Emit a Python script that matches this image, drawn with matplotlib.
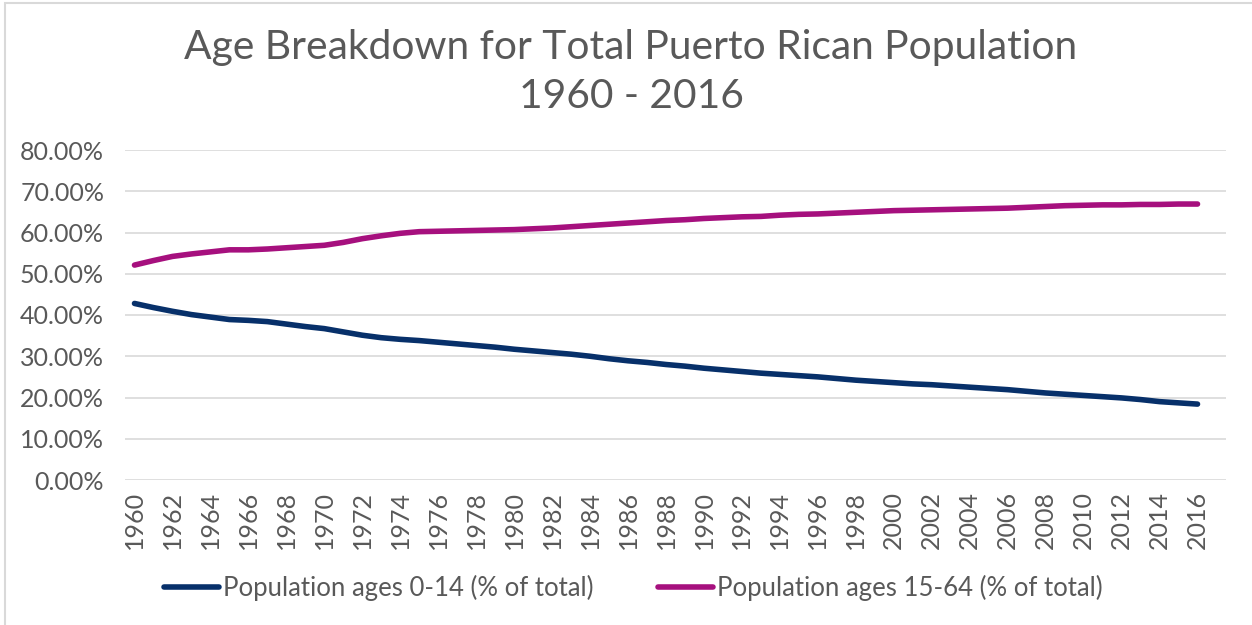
import matplotlib
matplotlib.use("Agg")
import matplotlib.pyplot as plt
from matplotlib.patches import Rectangle
from matplotlib.ticker import FuncFormatter

# Puerto Rico population share by age group (% of total)
years = list(range(1960, 2017))
ages_0_14 = [42.8, 41.8, 40.9, 40.1, 39.5, 38.9, 38.7, 38.4, 37.8, 37.2,
             36.7, 35.9, 35.1, 34.5, 34.1, 33.8, 33.4, 33.0, 32.6, 32.2,
             31.7, 31.3, 30.9, 30.5, 30.0, 29.4, 28.9, 28.5, 28.0, 27.6,
             27.1, 26.7, 26.3, 25.9, 25.6, 25.3, 25.0, 24.6, 24.2, 23.9,
             23.6, 23.3, 23.1, 22.8, 22.5, 22.2, 21.9, 21.5, 21.1, 20.8,
             20.5, 20.2, 19.9, 19.5, 19.0, 18.7, 18.4]
ages_15_64 = [52.1, 53.2, 54.2, 54.8, 55.3, 55.8, 55.8, 56.0, 56.3, 56.6,
              56.9, 57.6, 58.5, 59.2, 59.8, 60.2, 60.3, 60.4, 60.5, 60.6,
              60.7, 60.9, 61.1, 61.4, 61.7, 62.0, 62.3, 62.6, 62.9, 63.1,
              63.4, 63.6, 63.8, 63.9, 64.2, 64.4, 64.5, 64.7, 64.9, 65.1,
              65.3, 65.4, 65.5, 65.6, 65.7, 65.8, 65.9, 66.1, 66.3, 66.5,
              66.6, 66.7, 66.7, 66.8, 66.8, 66.9, 66.9]
series_names = ["Population ages 0-14 (% of total)",
                "Population ages 15-64 (% of total)"]
y_ticks = [0, 10, 20, 30, 40, 50, 60, 70, 80]

TEXT = "#595959"
GRID = "#D9D9D9"
NAVY = "#07306A"
MAGENTA = "#A6107E"

plt.rcParams["font.family"] = ["Lato", "DejaVu Sans"]

fig = plt.figure(figsize=(12.52, 6.25), dpi=100)
fig.patches.append(Rectangle((5 / 1252, -0.1), 1.2, (625 - 3) / 625 + 0.1,
                             transform=fig.transFigure, fill=False,
                             edgecolor=GRID, linewidth=1.5))

ax = fig.add_axes([125 / 1252, 145 / 625, 1101 / 1252, 330 / 625])
x = list(range(len(years)))
l1, = ax.plot(x, ages_0_14, color=NAVY, lw=4, solid_capstyle="round")
l2, = ax.plot(x, ages_15_64, color=MAGENTA, lw=4, solid_capstyle="round")

ax.set_xlim(-0.5, 57.5)
ax.set_ylim(0, 80)
ax.set_yticks(y_ticks)
ax.yaxis.set_major_formatter(FuncFormatter(lambda v, p: f"{v:.2f}%"))
ax.set_xticks(x[::2])
ax.set_xticklabels([str(y) for y in years[::2]], rotation=90)
ax.tick_params(axis="y", length=0, pad=15, labelsize=18, labelcolor=TEXT)
ax.tick_params(axis="x", length=0, pad=8, labelsize=18, labelcolor=TEXT)
ax.grid(axis="y", color=GRID, linewidth=1.2)
ax.set_axisbelow(True)
for s in ax.spines.values():
    s.set_visible(False)

fig.text(0.504, 1 - 48 / 625, "Age Breakdown for Total Puerto Rican Population",
         ha="center", va="center", fontsize=29.3, color=TEXT)
fig.text(0.504, 1 - 97 / 625, "1960 - 2016",
         ha="center", va="center", fontsize=29.3, color=TEXT)

fig.legend([l1, l2], series_names, loc="center",
           bbox_to_anchor=(0.506, 1 - 588 / 625), ncol=2, frameon=False,
           fontsize=18.5, labelcolor=TEXT, handlelength=2.15, handletextpad=0.15,
           columnspacing=2.5)

fig.savefig("out.png", dpi=100)
